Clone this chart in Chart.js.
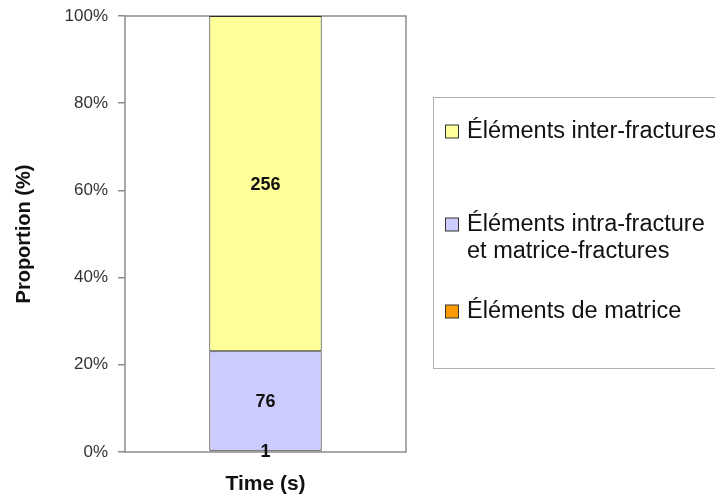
<!DOCTYPE html>
<html>
<head>
<meta charset="utf-8">
<script src="https://cdn.jsdelivr.net/npm/chart.js@4.4.1/dist/chart.umd.min.js"></script>
<style>
  html, body { margin: 0; padding: 0; background: #fff; }
  #wrap { width: 715px; height: 497px; position: relative; }
</style>
</head>
<body>
<div id="wrap"><canvas id="chart"></canvas></div>
<script>
// Data (bottom to top of the stack)
const categories = [''];
const seriesNames = [
    ['Éléments de matrice'],
    ['Éléments intra-fracture', 'et matrice-fractures'],
    ['Éléments inter-fractures']
];
const seriesCounts = [1, 76, 256];
const seriesColors = ['#FF9900', '#CCCCFF', '#FFFF99'];
const yTickLabels = ['0%', '20%', '40%', '60%', '80%', '100%'];

const total = seriesCounts.reduce((a, b) => a + b, 0);
const FONT = "'Liberation Sans', Arial, sans-serif";

// plot frame (grey rectangle around the chart area)
const framePlugin = {
    id: 'frame',
    beforeDatasetsDraw(chart) {
        const { ctx, chartArea: a } = chart;
        ctx.save();
        ctx.strokeStyle = '#8c8c8c';
        ctx.lineWidth = 1.5;
        ctx.strokeRect(a.left, a.top, a.right - a.left, a.bottom - a.top);
        ctx.restore();
    }
};

// count labels in the middle of each segment
const countLabels = {
    id: 'countLabels',
    afterDatasetsDraw(chart) {
        const ctx = chart.ctx;
        ctx.save();
        ctx.font = 'bold 18px ' + FONT;
        ctx.fillStyle = '#111';
        ctx.textAlign = 'center';
        ctx.textBaseline = 'middle';
        chart.data.datasets.forEach((ds, i) => {
            chart.getDatasetMeta(i).data.forEach(bar => {
                const p = bar.getCenterPoint();
                ctx.fillText(String(seriesCounts[i]), p.x, p.y + 1);
            });
        });
        ctx.restore();
    }
};

// boxed legend on the right, top series first
const boxLegend = {
    id: 'boxLegend',
    afterDraw(chart) {
        const ctx = chart.ctx;
        ctx.save();
        ctx.strokeStyle = '#b0b0b0';
        ctx.lineWidth = 1;
        ctx.strokeRect(433.5, 97.5, 320, 271);
        const rows = [
            { i: 2, y: 132 },
            { i: 1, y: 225 },
            { i: 0, y: 312 }
        ];
        ctx.font = '23.5px ' + FONT;
        ctx.textBaseline = 'middle';
        ctx.textAlign = 'left';
        rows.forEach(r => {
            ctx.fillStyle = seriesColors[r.i];
            ctx.fillRect(445.5, r.y - 7, 13, 13);
            ctx.strokeStyle = '#333';
            ctx.strokeRect(445.5, r.y - 7, 13, 13);
            ctx.fillStyle = '#111';
            seriesNames[r.i].forEach((line, k) => {
                ctx.fillText(line, 467, r.y + k * 27);
            });
        });
        ctx.restore();
    }
};

new Chart(document.getElementById('chart'), {
    type: 'bar',
    data: {
        labels: categories,
        datasets: seriesCounts.map((c, i) => ({
            label: seriesNames[i].join(' '),
            data: [c / total * 100],
            backgroundColor: seriesColors[i],
            borderColor: '#2a2a2a',
            borderWidth: 1,
            borderSkipped: false,
            barPercentage: 1,
            categoryPercentage: 0.4
        }))
    },
    options: {
        responsive: true,
        maintainAspectRatio: false,
        animation: false,
        layout: { padding: { top: 16, right: 309, left: 0, bottom: 0 } },
        plugins: {
            legend: { display: false },
            tooltip: { enabled: false }
        },
        scales: {
            x: {
                stacked: true,
                grid: { display: false },
                border: { display: false },
                ticks: { display: false },
                title: {
                    display: true,
                    text: 'Time (s)',
                    color: '#111',
                    font: { family: FONT, size: 21, weight: 'bold' },
                    padding: { top: 0, bottom: 0 }
                },
                afterFit(s) { s.height = 45; }
            },
            y: {
                stacked: true,
                min: 0,
                max: 100,
                grid: {
                    drawOnChartArea: false,
                    tickLength: 7,
                    color: '#8c8c8c',
                    lineWidth: 1.5
                },
                border: { display: false },
                ticks: {
                    stepSize: 20,
                    padding: 10,
                    color: '#333',
                    font: { family: FONT, size: 17 },
                    callback: (v, idx) => yTickLabels[idx]
                },
                title: {
                    display: true,
                    text: 'Proportion (%)',
                    color: '#111',
                    font: { family: FONT, size: 20, weight: 'bold' },
                    padding: { top: 12, bottom: 0 }
                },
                afterFit(s) {
                    s.width = 125;
                    s.paddingTop = 0;
                    s.paddingBottom = 0;
                }
            }
        }
    },
    plugins: [framePlugin, countLabels, boxLegend]
});
</script>
</body>
</html>
